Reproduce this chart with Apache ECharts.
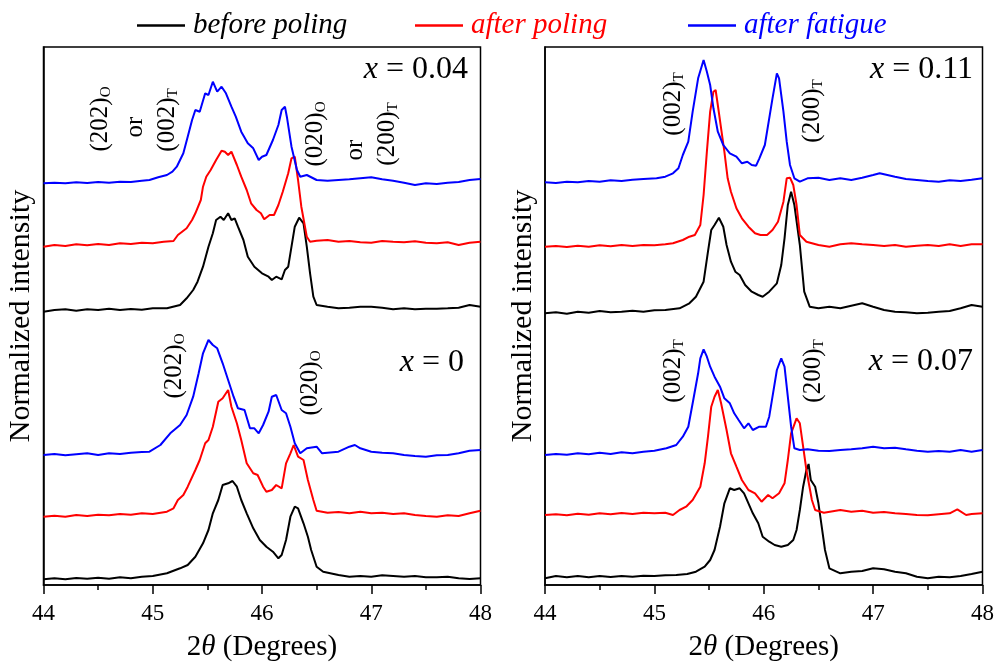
<!DOCTYPE html>
<html>
<head>
<meta charset="utf-8">
<script src="https://cdn.jsdelivr.net/npm/echarts@6/dist/echarts.min.js"></script>
<style>html,body{margin:0;padding:0;background:#fff}#c{width:998px;height:665px}</style>
</head>
<body>
<div id="c"></div>
<script>
// ---------- data: [2theta (deg), offset normalized intensity (a.u.)] ----------
const seriesNames = ['before poling', 'after poling', 'after fatigue'];
const seriesColors = ['#000000', '#ff0000', '#0000ff'];
const xTicks = [44, 45, 46, 47, 48];

// x = 0.04 (left panel, upper group)
const x004_before = [[44.0,273.3],[44.1,275],[44.2,275.7],[44.3,274.3],[44.4,275.7],[44.5,275],[44.6,276.3],[44.7,275],[44.8,276],[44.9,275.3],[45.0,276.7],[45.13,276.7],[45.25,280],[45.31,286.7],[45.37,295],[45.41,303.3],[45.46,318.3],[45.51,338.3],[45.55,351.7],[45.58,365],[45.62,368.3],[45.65,365],[45.69,371.7],[45.72,365],[45.75,366.7],[45.78,358.3],[45.83,345],[45.87,328.3],[45.93,318.3],[46.0,311.7],[46.06,308.3],[46.09,305],[46.13,308.3],[46.18,305.7],[46.21,315],[46.24,318.3],[46.27,338.3],[46.3,358.3],[46.34,367.3],[46.38,361.7],[46.41,338.3],[46.44,311.7],[46.47,288.3],[46.5,280],[46.6,278.3],[46.7,276.7],[46.8,277.3],[46.9,278.3],[47.0,278.3],[47.1,277.3],[47.2,275.7],[47.3,276.7],[47.4,275.7],[47.5,276.3],[47.6,276.3],[47.7,276.7],[47.8,277.3],[47.9,280],[48.0,278.3]];
const x004_after = [[44.0,338.3],[44.1,340],[44.2,339],[44.3,340.7],[44.4,339.7],[44.5,341],[44.6,340],[44.7,341.7],[44.8,341],[44.9,342.3],[45.0,341.7],[45.1,343.3],[45.19,344],[45.23,350],[45.31,356.7],[45.36,365],[45.39,371.7],[45.44,385],[45.46,398.3],[45.49,408.3],[45.53,415],[45.58,425],[45.63,434.3],[45.66,433.3],[45.69,430],[45.72,433.3],[45.77,420],[45.81,408.3],[45.86,395],[45.9,381.7],[45.95,375],[45.99,371.7],[46.02,365.7],[46.07,370],[46.11,370],[46.15,380],[46.19,393.3],[46.24,411.7],[46.27,426.7],[46.3,428.3],[46.33,405],[46.36,378.3],[46.41,348.3],[46.44,343.3],[46.5,344.3],[46.6,345],[46.7,343.3],[46.8,344],[46.9,342.7],[47.0,342.3],[47.1,344],[47.2,343.3],[47.3,342.7],[47.4,343.7],[47.5,342.3],[47.6,341.7],[47.7,342.7],[47.8,340],[47.9,342.3],[48.0,343.3]];
const x004_fatigue = [[44.0,401.7],[44.1,402.3],[44.2,401.7],[44.3,402.7],[44.4,402],[44.5,403],[44.6,402.3],[44.7,403.3],[44.8,403],[44.9,404.3],[44.97,405],[45.05,407.7],[45.13,410],[45.18,413.3],[45.22,418.3],[45.28,431.7],[45.32,448.3],[45.36,465],[45.39,475],[45.43,473.3],[45.48,491.7],[45.51,490],[45.55,503.3],[45.59,493.3],[45.63,498.3],[45.67,491.7],[45.72,478.3],[45.76,468.3],[45.81,453.3],[45.87,441.7],[45.92,436.7],[45.97,425],[46.0,428.3],[46.04,430],[46.1,445],[46.15,460],[46.18,475],[46.21,478.3],[46.23,466.7],[46.27,438.3],[46.32,415],[46.35,408.3],[46.41,410],[46.5,405],[46.6,404.3],[46.7,405],[46.8,405.7],[46.9,406.7],[47.0,407.7],[47.1,405.7],[47.2,404.3],[47.3,402.3],[47.4,400],[47.5,401.7],[47.6,401],[47.7,402.3],[47.8,403],[47.9,405],[48.0,406]];

// x = 0 (left panel, lower group)
const x000_before = [[44.0,5.7],[44.1,6.7],[44.2,5.7],[44.3,7],[44.4,6.3],[44.5,7.3],[44.6,6.3],[44.7,7.7],[44.8,6.7],[44.9,8.3],[45.0,9],[45.13,11.7],[45.25,16.7],[45.32,20],[45.39,28.3],[45.46,41.7],[45.51,55],[45.55,71.7],[45.6,85],[45.64,100],[45.69,101.7],[45.73,104],[45.77,98.3],[45.81,85],[45.86,71.7],[45.92,56.7],[45.98,45],[46.04,38.3],[46.1,33.3],[46.15,26.7],[46.18,30],[46.22,45],[46.26,68.3],[46.3,78.3],[46.33,76.7],[46.38,61.7],[46.42,48.3],[46.45,35],[46.5,18.3],[46.56,13.3],[46.7,10],[46.8,8.3],[46.9,9],[47.0,8.3],[47.1,9.7],[47.2,9],[47.3,8.3],[47.4,9],[47.5,7.7],[47.6,7.7],[47.7,8.3],[47.8,6.7],[47.9,6],[48.0,6.7]];
const x000_after = [[44.0,68.3],[44.1,69.3],[44.2,68.3],[44.3,70],[44.4,69],[44.5,70.3],[44.6,69.7],[44.7,71],[44.8,70.3],[44.9,71.7],[45.0,71],[45.13,73.3],[45.19,76.7],[45.23,85],[45.28,90],[45.32,98.3],[45.39,115],[45.43,125],[45.48,141.7],[45.51,145],[45.55,158.3],[45.6,183.3],[45.64,186.7],[45.69,195],[45.72,178.3],[45.77,161.7],[45.81,145],[45.86,121.7],[45.92,111.7],[45.96,110],[46.01,98.3],[46.04,93.3],[46.09,95],[46.13,100],[46.18,96.7],[46.22,121.7],[46.26,131.7],[46.29,140],[46.33,128.3],[46.38,125],[46.42,105],[46.47,85],[46.5,74.3],[46.6,72.3],[46.7,73],[46.8,71.7],[46.9,73.3],[47.0,71.7],[47.1,72.3],[47.2,71],[47.3,71.7],[47.4,70],[47.5,69],[47.6,68.3],[47.7,69.7],[47.8,69],[47.9,71.7],[48.0,74.3]];
const x000_fatigue = [[44.0,130],[44.1,131],[44.2,129.7],[44.3,130.7],[44.4,131.7],[44.5,130],[44.6,131.7],[44.7,131],[44.8,132.3],[44.9,133],[44.97,133.3],[45.07,140],[45.16,151.7],[45.25,160],[45.31,170],[45.37,188.3],[45.42,211.7],[45.46,231.7],[45.51,245],[45.55,240],[45.59,236.7],[45.64,221.7],[45.69,205],[45.74,188.3],[45.78,176.7],[45.84,175],[45.89,156.7],[45.93,156.7],[45.97,151.7],[46.01,160],[46.06,173.3],[46.09,188.3],[46.13,190],[46.18,175],[46.22,171.7],[46.26,158.3],[46.3,141.7],[46.35,131.7],[46.41,136.7],[46.5,138.3],[46.55,131.7],[46.6,132.3],[46.7,133.3],[46.8,138.3],[46.85,140],[46.9,136.7],[47.0,133.3],[47.1,132.3],[47.2,131.7],[47.3,130],[47.4,129],[47.5,128.3],[47.6,129.7],[47.7,130],[47.8,131.7],[47.9,134.3],[48.0,135]];

// x = 0.11 (right panel, upper group)
const x011_before = [[44.0,271.7],[44.1,272.7],[44.2,271.3],[44.3,273.3],[44.4,272.3],[44.5,274],[44.6,272.7],[44.7,273.3],[44.8,274.3],[44.9,273.3],[45.0,274.7],[45.1,275],[45.23,276.7],[45.32,281.7],[45.38,288.3],[45.45,303.3],[45.49,333.3],[45.52,355],[45.55,360],[45.59,367.3],[45.63,358.3],[45.66,340],[45.7,323.3],[45.74,313.3],[45.78,310],[45.83,300],[45.89,293.3],[45.95,290],[45.99,288.3],[46.05,293.3],[46.12,301.7],[46.16,320],[46.19,346.7],[46.22,380],[46.25,393.3],[46.28,380],[46.33,340],[46.37,293.3],[46.42,278.3],[46.5,276.7],[46.6,278.3],[46.7,276.7],[46.8,279.3],[46.9,281.7],[47.0,278.3],[47.1,275],[47.2,273.3],[47.3,272.7],[47.4,271.7],[47.5,272.3],[47.6,273.3],[47.7,274],[47.8,276.7],[47.9,280],[48.0,278.3]];
const x011_after = [[44.0,338.3],[44.1,339],[44.2,338],[44.3,339.3],[44.4,338.3],[44.5,339.7],[44.6,338.7],[44.7,340],[44.8,339],[44.9,340],[45.0,339.7],[45.1,340.7],[45.17,341.7],[45.26,345],[45.32,348.3],[45.37,350],[45.42,360],[45.45,390],[45.48,433.3],[45.51,473.3],[45.54,493.3],[45.56,495],[45.58,480],[45.61,456.7],[45.64,433.3],[45.67,406.7],[45.7,393.3],[45.75,376.7],[45.8,366.7],[45.86,358.3],[45.92,351.7],[45.97,350],[46.03,350],[46.08,355],[46.13,363.3],[46.18,383.3],[46.21,406.7],[46.24,407.3],[46.27,400],[46.3,380],[46.33,350],[46.39,343.3],[46.5,340],[46.6,338.3],[46.7,340.7],[46.8,341.7],[46.9,340.7],[47.0,340],[47.1,339],[47.2,340],[47.3,338.3],[47.4,339.3],[47.5,340],[47.6,339],[47.7,340.7],[47.8,339],[47.9,340.7],[48.0,340.7]];
const x011_fatigue = [[44.0,402.7],[44.1,402],[44.2,403.3],[44.3,402.7],[44.4,404],[44.5,403.3],[44.6,404.7],[44.7,404],[44.8,405.3],[44.9,406],[45.02,406.7],[45.1,408.3],[45.17,411.7],[45.22,416.7],[45.26,430],[45.31,443.3],[45.35,473.3],[45.4,506.7],[45.45,525],[45.48,513.3],[45.51,500],[45.54,476.7],[45.58,453.3],[45.63,440],[45.69,431.7],[45.75,428.3],[45.8,421.7],[45.85,423.3],[45.89,420],[45.93,419.3],[45.96,426.7],[46.01,440],[46.05,466.7],[46.08,486.7],[46.12,511.7],[46.14,506.7],[46.18,473.3],[46.21,443.3],[46.24,420],[46.28,406.7],[46.33,403.3],[46.4,406.7],[46.5,407.3],[46.6,405],[46.7,406.7],[46.8,405],[46.9,407.3],[47.0,410],[47.06,411.7],[47.2,408.3],[47.3,406],[47.4,405],[47.5,404],[47.6,403.3],[47.7,404.7],[47.8,404],[47.9,405.3],[48.0,406.7]];

// x = 0.07 (right panel, lower group)
const x007_before = [[44.0,6.7],[44.1,9],[44.2,7.7],[44.3,9],[44.4,7.7],[44.5,9],[44.6,8],[44.7,9],[44.8,8.3],[44.9,9.3],[45.0,9],[45.1,9.7],[45.2,10],[45.3,11],[45.38,13.3],[45.46,18.3],[45.51,25],[45.55,35],[45.6,58.3],[45.64,81.7],[45.69,96.7],[45.73,95],[45.78,96.7],[45.82,91.7],[45.86,81.7],[45.9,71.7],[45.95,61.7],[45.99,48.3],[46.05,43.3],[46.1,40],[46.16,38.3],[46.22,40],[46.27,45],[46.3,55],[46.33,75],[46.36,98.3],[46.39,115],[46.41,121],[46.43,105],[46.47,98.3],[46.5,81.7],[46.53,58.3],[46.56,35],[46.6,16.7],[46.7,11.7],[46.8,13.3],[46.9,14],[47.0,16.7],[47.1,15.7],[47.2,13.3],[47.3,11.7],[47.4,8.3],[47.5,6.7],[47.6,8.3],[47.7,7.7],[47.8,9],[47.9,11],[48.0,13.3]];
const x007_after = [[44.0,70],[44.1,70.7],[44.2,69.7],[44.3,71.3],[44.4,70.3],[44.5,71.7],[44.6,70.7],[44.7,72],[44.8,71],[44.9,72.3],[45.0,71.7],[45.1,72.3],[45.17,70],[45.23,75],[45.29,78.3],[45.35,85],[45.42,98.3],[45.46,121.7],[45.49,148.3],[45.52,178.3],[45.55,188.3],[45.58,195],[45.61,181.7],[45.66,155],[45.7,131.7],[45.75,118.3],[45.8,105],[45.86,95],[45.92,91.7],[45.98,83.3],[46.04,90],[46.08,86.7],[46.14,91.7],[46.19,101.7],[46.22,125],[46.25,151.7],[46.3,166.7],[46.33,161.7],[46.36,138.3],[46.39,115],[46.44,85],[46.47,75],[46.55,72.3],[46.7,75],[46.8,73.3],[46.9,74.3],[47.0,72.3],[47.1,73],[47.2,71.7],[47.3,71],[47.4,70],[47.5,69.7],[47.6,70.7],[47.7,71.7],[47.77,75.7],[47.85,70],[47.9,71],[48.0,71.7]];
const x007_fatigue = [[44.0,130],[44.1,131],[44.2,130.3],[44.3,131.7],[44.4,130.7],[44.5,132.3],[44.6,131],[44.7,132.7],[44.8,131.7],[44.9,133.3],[45.0,134.3],[45.11,136.7],[45.2,140],[45.26,148.3],[45.31,158.3],[45.35,181.7],[45.4,211.7],[45.42,226.7],[45.45,235.7],[45.48,228.3],[45.51,218.3],[45.55,208.3],[45.6,198.3],[45.64,186.7],[45.69,181.7],[45.73,171.7],[45.77,165],[45.82,156.7],[45.86,161.7],[45.9,155],[45.96,158.3],[46.02,158.3],[46.05,168.3],[46.08,188.3],[46.12,215],[46.16,226.7],[46.19,218.3],[46.22,188.3],[46.25,158.3],[46.28,136.7],[46.33,135],[46.4,135.7],[46.5,134.3],[46.6,134],[46.7,135],[46.8,135.7],[46.9,136.7],[47.0,138.3],[47.1,136.7],[47.2,137.3],[47.3,135.7],[47.4,134.3],[47.5,133.3],[47.6,134],[47.7,133.3],[47.8,135],[47.9,133.3],[48.0,135]];

// ---------- chart ----------
const FONT = '"Liberation Serif", "Times New Roman", serif';
const chart = echarts.init(document.getElementById('c'), null, {renderer: 'canvas'});

const panels = [
  {curves: [x004_before, x004_after, x004_fatigue, x000_before, x000_after, x000_fatigue]},
  {curves: [x011_before, x011_after, x011_fatigue, x007_before, x007_after, x007_fatigue]}
];

const grids = [
  {left: 43.5, top: 47, width: 437, height: 538},
  {left: 545, top: 47, width: 437.5, height: 538}
].map(g => Object.assign({show: true, borderColor: '#000', borderWidth: 1.5, backgroundColor: 'transparent', containLabel: false, outerBoundsMode: 'none'}, g));

const xAxes = grids.map((g, i) => ({
  type: 'value', gridIndex: i, min: xTicks[0], max: xTicks[xTicks.length - 1], interval: 1,
  name: '{n|2}{i|θ}{n| (Degrees)}', nameLocation: 'middle', nameGap: 48,
  nameTextStyle: {rich: {n: {fontSize: 29, fontFamily: FONT, color: '#000'}, i: {fontSize: 29, fontFamily: FONT, fontStyle: 'italic', color: '#000'}}},
  axisLine: {show: true, lineStyle: {color: '#000', width: 1.5}},
  axisTick: {show: true, length: 9, inside: false, lineStyle: {color: '#000', width: 1.5}},
  minorTick: {show: true, splitNumber: 2, length: 5, lineStyle: {color: '#000', width: 1.5}},
  axisLabel: {fontSize: 23, fontFamily: FONT, color: '#000', margin: 17},
  splitLine: {show: false}
}));

const yAxes = grids.map((g, i) => ({
  type: 'value', gridIndex: i, min: 0, max: 538,
  name: 'Normalized intensity', nameLocation: 'middle', nameGap: 7,
  nameTextStyle: {fontSize: 30, fontFamily: FONT, color: '#000'},
  axisLine: {show: true, lineStyle: {color: '#000', width: 1.5}},
  axisTick: {show: false}, axisLabel: {show: false}, splitLine: {show: false}
}));

const series = [];
panels.forEach((p, pi) => {
  p.curves.forEach((data, ci) => {
    const k = ci % 3;
    series.push({
      type: 'line', name: seriesNames[k], xAxisIndex: pi, yAxisIndex: pi,
      data: data, showSymbol: false, symbol: 'none', smooth: false,
      lineStyle: {color: seriesColors[k], width: 2}, itemStyle: {color: seriesColors[k]},
      z: 2 + k, silent: true, animation: false
    });
  });
});

function peakLabel(x, y, main, sub) {
  return {
    type: 'text', x: x, y: y, rotation: Math.PI / 2, z: 100,
    style: {
      text: '{m|' + main + '}' + (sub ? '{s|' + sub + '}' : ''),
      align: 'center', verticalAlign: 'middle',
      rich: {
        m: {fontSize: 25, fontFamily: FONT, fill: '#000', lineHeight: 28},
        s: {fontSize: 15, fontFamily: FONT, fill: '#000', lineHeight: 15, padding: [13, 0, 0, 0]}
      }
    }
  };
}
function compLabel(x, y, val) {
  return {
    type: 'text', x: x, y: y, z: 100,
    style: {
      text: '{i|x}{n| = ' + val + '}', align: 'right', verticalAlign: 'middle',
      rich: {
        i: {fontSize: 32, fontFamily: FONT, fontStyle: 'italic', fill: '#000'},
        n: {fontSize: 32, fontFamily: FONT, fill: '#000'}
      }
    }
  };
}

const graphic = [
  compLabel(468, 70, '0.04'), compLabel(464, 363, '0'),
  compLabel(973, 70, '0.11'), compLabel(973, 362, '0.07'),
  peakLabel(100, 119, '(202)', 'O'), peakLabel(135, 127, 'or', ''), peakLabel(167, 120, '(002)', 'T'),
  peakLabel(315, 134, '(020)', 'O'), peakLabel(355, 150, 'or', ''), peakLabel(387, 134, '(200)', 'T'),
  peakLabel(174, 366, '(202)', 'O'), peakLabel(310, 383, '(020)', 'O'),
  peakLabel(673, 104, '(002)', 'T'), peakLabel(812, 111, '(200)', 'T'),
  peakLabel(673, 371, '(002)', 'T'), peakLabel(813, 371, '(200)', 'T')
];

const legendLefts = [137, 415, 688];
const legends = seriesNames.map((n, i) => ({
  left: legendLefts[i], top: 11, padding: 0, itemWidth: 48, itemHeight: 2.5, icon: 'rect',
  selectedMode: false,
  textStyle: {fontSize: 29, fontFamily: FONT, fontStyle: 'italic', color: seriesColors[i], padding: [0, 0, 0, 3]},
  data: [{name: n, itemStyle: {color: seriesColors[i]}}]
}));

chart.setOption({
  animation: false,
  backgroundColor: '#fff',
  legend: legends,
  grid: grids, xAxis: xAxes, yAxis: yAxes, series: series, graphic: graphic
});
</script>
</body>
</html>
